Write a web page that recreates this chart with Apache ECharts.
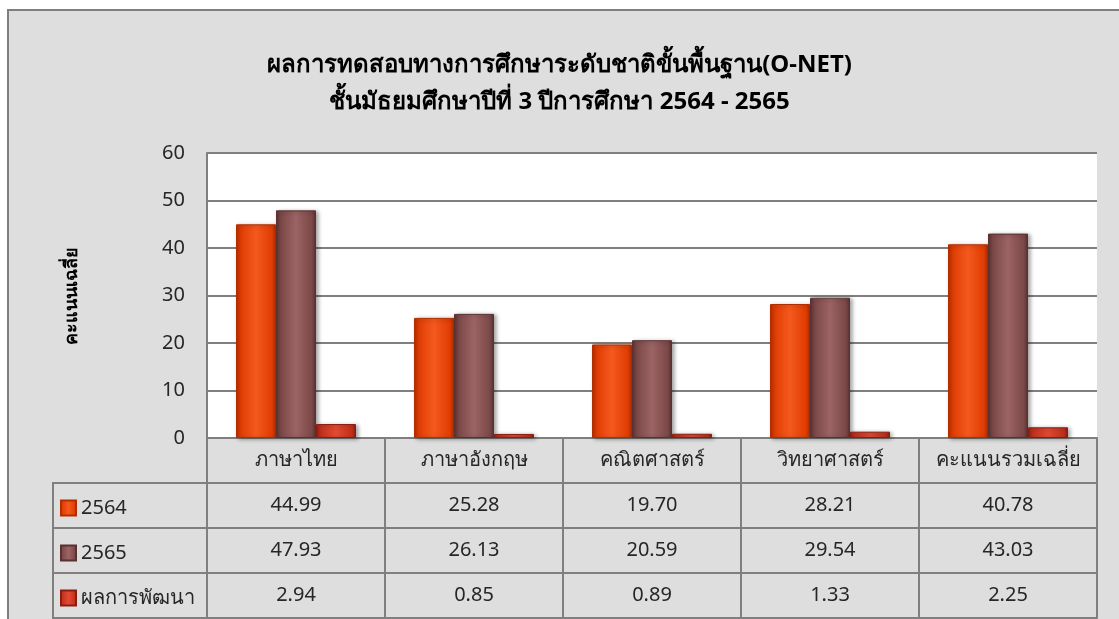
<!DOCTYPE html>
<html>
<head>
<meta charset="utf-8">
<script src="https://cdn.jsdelivr.net/npm/echarts@6/dist/echarts.min.js"></script>
<style>
  html, body { margin: 0; padding: 0; background: #fff; }
  #main { width: 1119px; height: 619px; }
</style>
</head>
<body>
<div id="main"></div>
<script>
// ข้อมูล
const categories = ['ภาษาไทย', 'ภาษาอังกฤษ', 'คณิตศาสตร์', 'วิทยาศาสตร์', 'คะแนนรวมเฉลี่ย'];
const seriesNames = ['2564', '2565', 'ผลการพัฒนา'];
const score2564 = [44.99, 25.28, 19.70, 28.21, 40.78];
const score2565 = [47.93, 26.13, 20.59, 29.54, 43.03];
const development = [2.94, 0.85, 0.89, 1.33, 2.25];
const yTicks = [0, 10, 20, 30, 40, 50, 60];

const values = [score2564, score2565, development];
const font = '"Noto Sans", Tahoma, sans-serif';
const gridColor = '#7f7f7f';
const textColor = '#262626';
const rowH = 45;

// light / main / dark for the bevel look
const palette = [
  ['#f4591e', '#e03c02', '#b02e00'],
  ['#9c6464', '#7b4747', '#593131'],
  ['#e24a32', '#c0301c', '#8a1d10']
];

function bevel(c) {
  return new echarts.graphic.LinearGradient(0, 0, 1, 0, [
    { offset: 0, color: c[2] },
    { offset: 0.1, color: c[1] },
    { offset: 0.5, color: c[0] },
    { offset: 0.9, color: c[1] },
    { offset: 1, color: c[2] }
  ]);
}

function fmt(v) { return v.toFixed(2); }

function tableAxis(row, data, showLabel) {
  return {
    type: 'category',
    gridIndex: 0,
    position: 'bottom',
    offset: row * rowH,
    data: data,
    axisLine: { show: true, lineStyle: { color: gridColor, width: 2 } },
    axisTick: { show: showLabel, interval: 0, length: rowH, lineStyle: { color: gridColor, width: 2 } },
    axisLabel: { show: showLabel, interval: 0, margin: 12, fontSize: 20, color: textColor, fontFamily: font },
    splitLine: { show: false }
  };
}

const myEcharts = echarts.init(document.getElementById('main'));

const option = {
  backgroundColor: '#fff',
  animation: false,
  title: {
    text: 'ผลการทดสอบทางการศึกษาระดับชาติขั้นพื้นฐาน(O-NET)\nชั้นมัธยมศึกษาปีที่ 3 ปีการศึกษา 2564 - 2565',
    left: 'center',
    top: 42,
    textStyle: { fontSize: 24, fontWeight: 'bold', color: '#000', lineHeight: 37, fontFamily: font }
  },
  graphic: [
    { type: 'rect', z: -100, shape: { x: 8, y: 10, width: 1130, height: 640 },
      style: { fill: '#dedede', stroke: gridColor, lineWidth: 2 } },
    { type: 'rect', shape: { x: 53, y: 438 + rowH, width: 154, height: rowH * 3 },
      style: { fill: 'none', stroke: gridColor, lineWidth: 2 } },
    { type: 'line', shape: { x1: 53, y1: 438 + rowH * 2, x2: 207, y2: 438 + rowH * 2 },
      style: { stroke: gridColor, lineWidth: 2 } },
    { type: 'line', shape: { x1: 53, y1: 438 + rowH * 3, x2: 207, y2: 438 + rowH * 3 },
      style: { stroke: gridColor, lineWidth: 2 } }
  ],
  legend: seriesNames.map((n, i) => ({
    data: [n],
    orient: 'vertical',
    left: 55,
    top: 493 + i * rowH,
    icon: 'rect',
    itemWidth: 15,
    itemHeight: 15,
    itemGap: 0,
    selectedMode: false,
    textStyle: { fontSize: 20, color: textColor, fontFamily: font }
  })),
  grid: {
    left: 207,
    right: 22,
    top: 153,
    bottom: 619 - 438,
    show: true,
    backgroundColor: '#fff',
    borderWidth: 0
  },
  xAxis: [
    tableAxis(0, categories, true),
    tableAxis(1, score2564.map(fmt), true),
    tableAxis(2, score2565.map(fmt), true),
    tableAxis(3, development.map(fmt), true),
    tableAxis(4, categories, false)
  ],
  yAxis: {
    type: 'value',
    min: yTicks[0],
    max: yTicks[yTicks.length - 1],
    interval: 10,
    name: 'คะแนนเฉลี่ย',
    nameLocation: 'middle',
    nameGap: 126,
    nameTextStyle: { fontSize: 18, fontWeight: 'bold', color: '#000', fontFamily: font },
    axisLine: { show: true, lineStyle: { color: gridColor, width: 2 } },
    axisTick: { show: false },
    axisLabel: { margin: 22, fontSize: 20, color: textColor, fontFamily: font },
    splitLine: { show: true, lineStyle: { color: gridColor, width: 2 } }
  },
  series: seriesNames.map((n, i) => ({
    name: n,
    type: 'bar',
    xAxisIndex: 0,
    data: values[i],
    barWidth: 40,
    barGap: '0%',
    itemStyle: {
      color: bevel(palette[i]),
      borderColor: palette[i][2],
      borderWidth: 1,
      shadowBlur: 4,
      shadowOffsetX: 2,
      shadowOffsetY: 1,
      shadowColor: 'rgba(0,0,0,0.35)'
    }
  }))
};

myEcharts.setOption(option);
</script>
</body>
</html>
